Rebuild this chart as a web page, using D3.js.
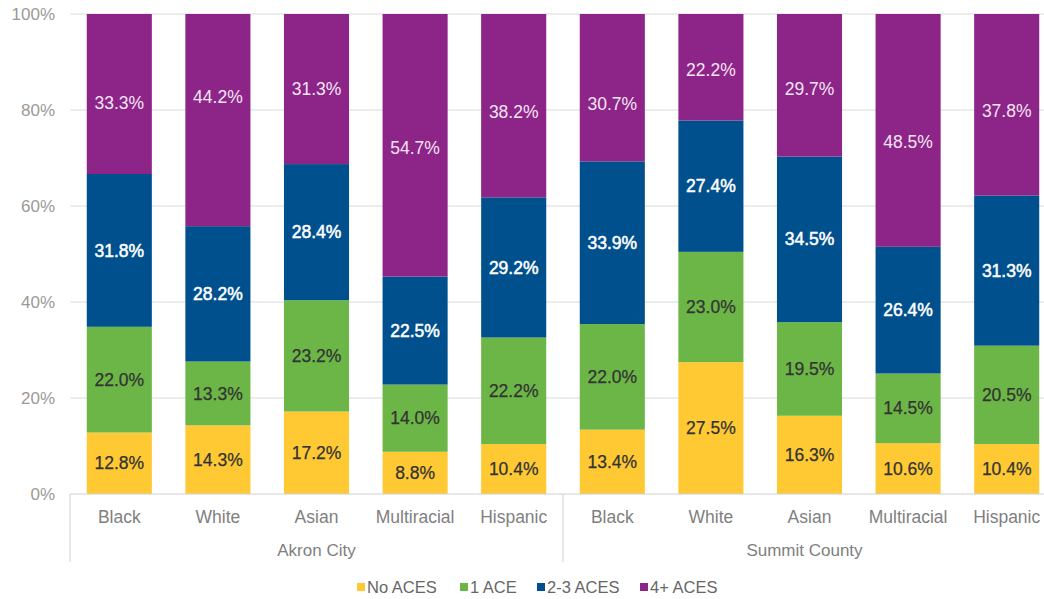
<!DOCTYPE html>
<html>
<head>
<meta charset="utf-8">
<script src="https://cdn.jsdelivr.net/npm/d3@7"></script>
<style>
  html, body { margin: 0; padding: 0; background: #fff; }
  svg { display: block; font-family: "Liberation Sans", Arial, sans-serif; }
</style>
</head>
<body>
<svg id="chart" width="1044" height="599"></svg>
<script>
// Share of residents by number of adverse childhood experiences (ACEs)
const groups = ["Akron City", "Summit County"];
const races = ["Black", "White", "Asian", "Multiracial", "Hispanic"];
const seriesNames = ["No ACES", "1 ACE", "2-3 ACES", "4+ ACES"];

const noAces   = [12.8, 14.3, 17.2, 8.8, 10.4, 13.4, 27.5, 16.3, 10.6, 10.4];
const oneAce   = [22.0, 13.3, 23.2, 14.0, 22.2, 22.0, 23.0, 19.5, 14.5, 20.5];
const twoThree = [31.8, 28.2, 28.4, 22.5, 29.2, 33.9, 27.4, 34.5, 26.4, 31.3];
const fourPlus = [33.3, 44.2, 31.3, 54.7, 38.2, 30.7, 22.2, 29.7, 48.5, 37.8];

const yTicks = [0, 20, 40, 60, 80, 100];

// Vertical nudge (px) for the top-segment labels, which sit off-centre
const topLabelNudge = [9, -23, 0, 3, 6, 16, 3, 4, 11, 6];

const colors = ["#FFC933", "#6BB646", "#00508E", "#8D2488"];
const labelColors = ["#333333", "#333333", "#ffffff", "#f4e6f3"];
const labelStroke = [0.25, 0.25, 0.5, 0];

const rows = [];
groups.forEach((g, gi) => races.forEach((r, ri) => {
  const i = gi * races.length + ri;
  rows.push({
    key: g + "|" + r, group: g, race: r, idx: i,
    "No ACES": noAces[i], "1 ACE": oneAce[i], "2-3 ACES": twoThree[i], "4+ ACES": fourPlus[i]
  });
}));

const svg = d3.select("#chart");
const plotLeft = 70, plotRight = 1056, plotTop = 14, plotBottom = 494;

const x = d3.scaleBand().domain(rows.map(d => d.key)).range([plotLeft, plotRight])
  .paddingInner(0.34).paddingOuter(0.17);
const y = d3.scaleLinear().domain([0, 1]).range([plotBottom, plotTop]);

const stacked = d3.stack().keys(seriesNames).offset(d3.stackOffsetExpand)(rows);

// Gridlines
svg.append("g").selectAll("line").data(yTicks.filter(t => t > 0)).join("line")
  .attr("x1", plotLeft).attr("x2", 1044)
  .attr("y1", d => y(d / 100)).attr("y2", d => y(d / 100))
  .attr("stroke", "#d9d9d9").attr("stroke-width", 1);

// Y axis labels
svg.append("g").selectAll("text").data(yTicks).join("text")
  .attr("x", 55).attr("y", d => y(d / 100)).attr("dy", "0.35em")
  .attr("text-anchor", "end").attr("fill", "#999").attr("font-size", 17)
  .text(d => d + "%");

// Bars
const layer = svg.append("g").selectAll("g").data(stacked).join("g")
  .attr("fill", (d, i) => colors[i]);
layer.selectAll("rect").data(d => d).join("rect")
  .attr("x", d => x(d.data.key))
  .attr("width", x.bandwidth())
  .attr("y", d => y(d[1]))
  .attr("height", d => y(d[0]) - y(d[1]));

// Value labels
stacked.forEach((s, si) => {
  svg.append("g").selectAll("text").data(s).join("text")
    .attr("x", d => x(d.data.key) + x.bandwidth() / 2)
    .attr("y", d => (y(d[0]) + y(d[1])) / 2 + (si === 3 ? topLabelNudge[d.data.idx] : 0))
    .attr("dy", "0.35em")
    .attr("text-anchor", "middle")
    .attr("font-size", 17.5)
    .attr("fill", labelColors[si])
    .attr("stroke", labelStroke[si] > 0 ? labelColors[si] : "none")
    .attr("stroke-width", labelStroke[si])
    .text(d => d.data[s.key].toFixed(1) + "%");
});

// X axis baseline
svg.append("line").attr("x1", plotLeft).attr("x2", 1044).attr("y1", plotBottom).attr("y2", plotBottom)
  .attr("stroke", "#d0d0d0").attr("stroke-width", 1);

// Group separators
const sepX = [plotLeft, (x(rows[4].key) + x.bandwidth() + x(rows[5].key)) / 2, plotRight];
svg.append("g").selectAll("line").data(sepX).join("line")
  .attr("x1", d => d).attr("x2", d => d).attr("y1", plotBottom).attr("y2", 562)
  .attr("stroke", "#d0d0d0").attr("stroke-width", 1);

// Category labels
svg.append("g").selectAll("text").data(rows).join("text")
  .attr("x", d => x(d.key) + x.bandwidth() / 2).attr("y", 517).attr("dy", "0.35em")
  .attr("text-anchor", "middle").attr("fill", "#7f7f7f").attr("font-size", 17.5)
  .text(d => d.race);

// Group labels
svg.append("g").selectAll("text").data(groups).join("text")
  .attr("x", (g, gi) => (sepX[gi] + sepX[gi + 1]) / 2 - (gi === 1 ? 5 : 0)).attr("y", 550).attr("dy", "0.35em")
  .attr("text-anchor", "middle").attr("fill", "#7f7f7f").attr("font-size", 17)
  .text(g => g);

// Legend
const legendX = [357, 460, 537, 640];
const legend = svg.append("g").selectAll("g").data(seriesNames).join("g")
  .attr("transform", (d, i) => `translate(${legendX[i]},587)`);
legend.append("rect").attr("x", 0).attr("y", -4).attr("width", 8).attr("height", 8)
  .attr("fill", (d, i) => colors[i]);
legend.append("text").attr("x", 10).attr("y", 0).attr("dy", "0.35em")
  .attr("fill", "#666").attr("font-size", 16.5).text(d => d);
</script>
</body>
</html>
